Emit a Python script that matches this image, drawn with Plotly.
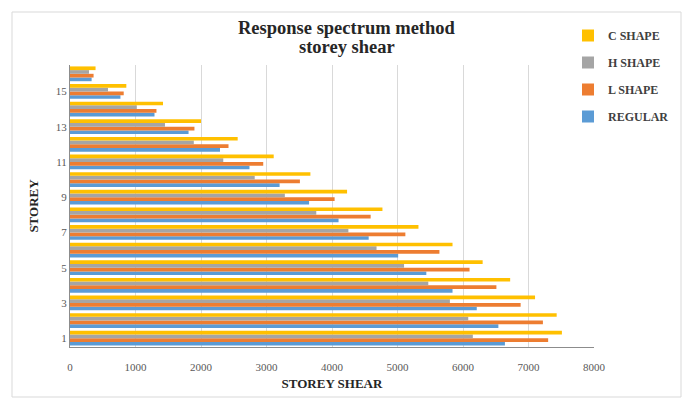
import plotly.graph_objects as go

# Storey numbers (1 = ground storey)
storeys = list(range(1, 17))

# Storey shear per storey for each plan shape
regular = [6640, 6540, 6210, 5840, 5440, 5010, 4560, 4100, 3650, 3200, 2740, 2290, 1810, 1290, 770, 330]
l_shape = [7300, 7220, 6880, 6510, 6100, 5640, 5120, 4590, 4040, 3510, 2950, 2420, 1900, 1320, 820, 360]
h_shape = [6150, 6080, 5800, 5470, 5100, 4680, 4250, 3760, 3280, 2820, 2340, 1890, 1450, 1020, 580, 290]
c_shape = [7510, 7430, 7100, 6720, 6300, 5840, 5320, 4770, 4230, 3670, 3110, 2560, 2000, 1420, 860, 390]

series_names = ["REGULAR", "L SHAPE", "H SHAPE", "C SHAPE"]
series_values = [regular, l_shape, h_shape, c_shape]
series_colors = ["#5B9BD5", "#ED7D31", "#A5A5A5", "#FFC000"]

x_ticks = list(range(0, 8001, 1000))
y_ticks = list(range(1, 16, 2))

serif = "Liberation Serif"
W, H = 686, 401

fig = go.Figure()
for i, (name, vals, col) in enumerate(zip(series_names, series_values, series_colors)):
    fig.add_trace(go.Bar(
        y=storeys, x=vals, name=name, orientation="h",
        marker=dict(color=col, line=dict(width=0)),
        legendgroup=name, legendrank=1000 - i,
    ))

fig.update_layout(
    width=W, height=H,
    margin=dict(l=70, r=92, t=65, b=54, autoexpand=False),
    paper_bgcolor="white", plot_bgcolor="white",
    barmode="group", bargap=0.16, bargroupgap=0,
    showlegend=True,
    legend=dict(
        xref="container", yref="container",
        x=568 / W, xanchor="left", y=1 - 21 / H, yanchor="top",
        traceorder="grouped", tracegroupgap=8,
        font=dict(family=serif, size=12, color="#404040", weight="bold"),
        itemwidth=30, bgcolor="rgba(0,0,0,0)",
    ),
    xaxis=dict(
        range=[0, 8000], tickvals=x_ticks, ticktext=[str(v) for v in x_ticks],
        showgrid=True, gridcolor="#D9D9D9", gridwidth=1,
        showline=True, linecolor="#8C8C8C", linewidth=1,
        zeroline=False, ticks="outside", ticklen=10, tickcolor="rgba(0,0,0,0)",
        tickfont=dict(family=serif, size=11, color="#595959"),
        title=dict(text="STOREY SHEAR", standoff=6,
                   font=dict(family=serif, size=13, color="#262626", weight="bold")),
    ),
    yaxis=dict(
        range=[0.5, 16.5], tickvals=y_ticks, ticktext=[str(v) for v in y_ticks],
        showgrid=False, showline=True, linecolor="#8C8C8C", linewidth=1,
        zeroline=False, ticks="",
        tickfont=dict(family=serif, size=11, color="#595959"),
        title=dict(text="STOREY", standoff=14,
                   font=dict(family=serif, size=13, color="#262626", weight="bold")),
    ),
    annotations=[
        dict(text="Response spectrum method",
             xref="paper", yref="paper", x=(347 - 70) / 524, y=1.0, yshift=65 - 28,
             xanchor="center", yanchor="middle", showarrow=False,
             font=dict(family=serif, size=18.5, color="#262626", weight="bold")),
        dict(text="storey shear",
             xref="paper", yref="paper", x=(347 - 70) / 524, y=1.0, yshift=65 - 47,
             xanchor="center", yanchor="middle", showarrow=False,
             font=dict(family=serif, size=18.5, color="#262626", weight="bold")),
    ],
    shapes=[dict(
        type="rect", xref="paper", yref="paper",
        x0=-58 / 524, x1=(681 - 70) / 524, y0=-50 / 282, y1=(65 - 12 + 282) / 282,
        line=dict(color="#D9D9D9", width=1), layer="below",
    )],
)

fig.write_html("out.html")
